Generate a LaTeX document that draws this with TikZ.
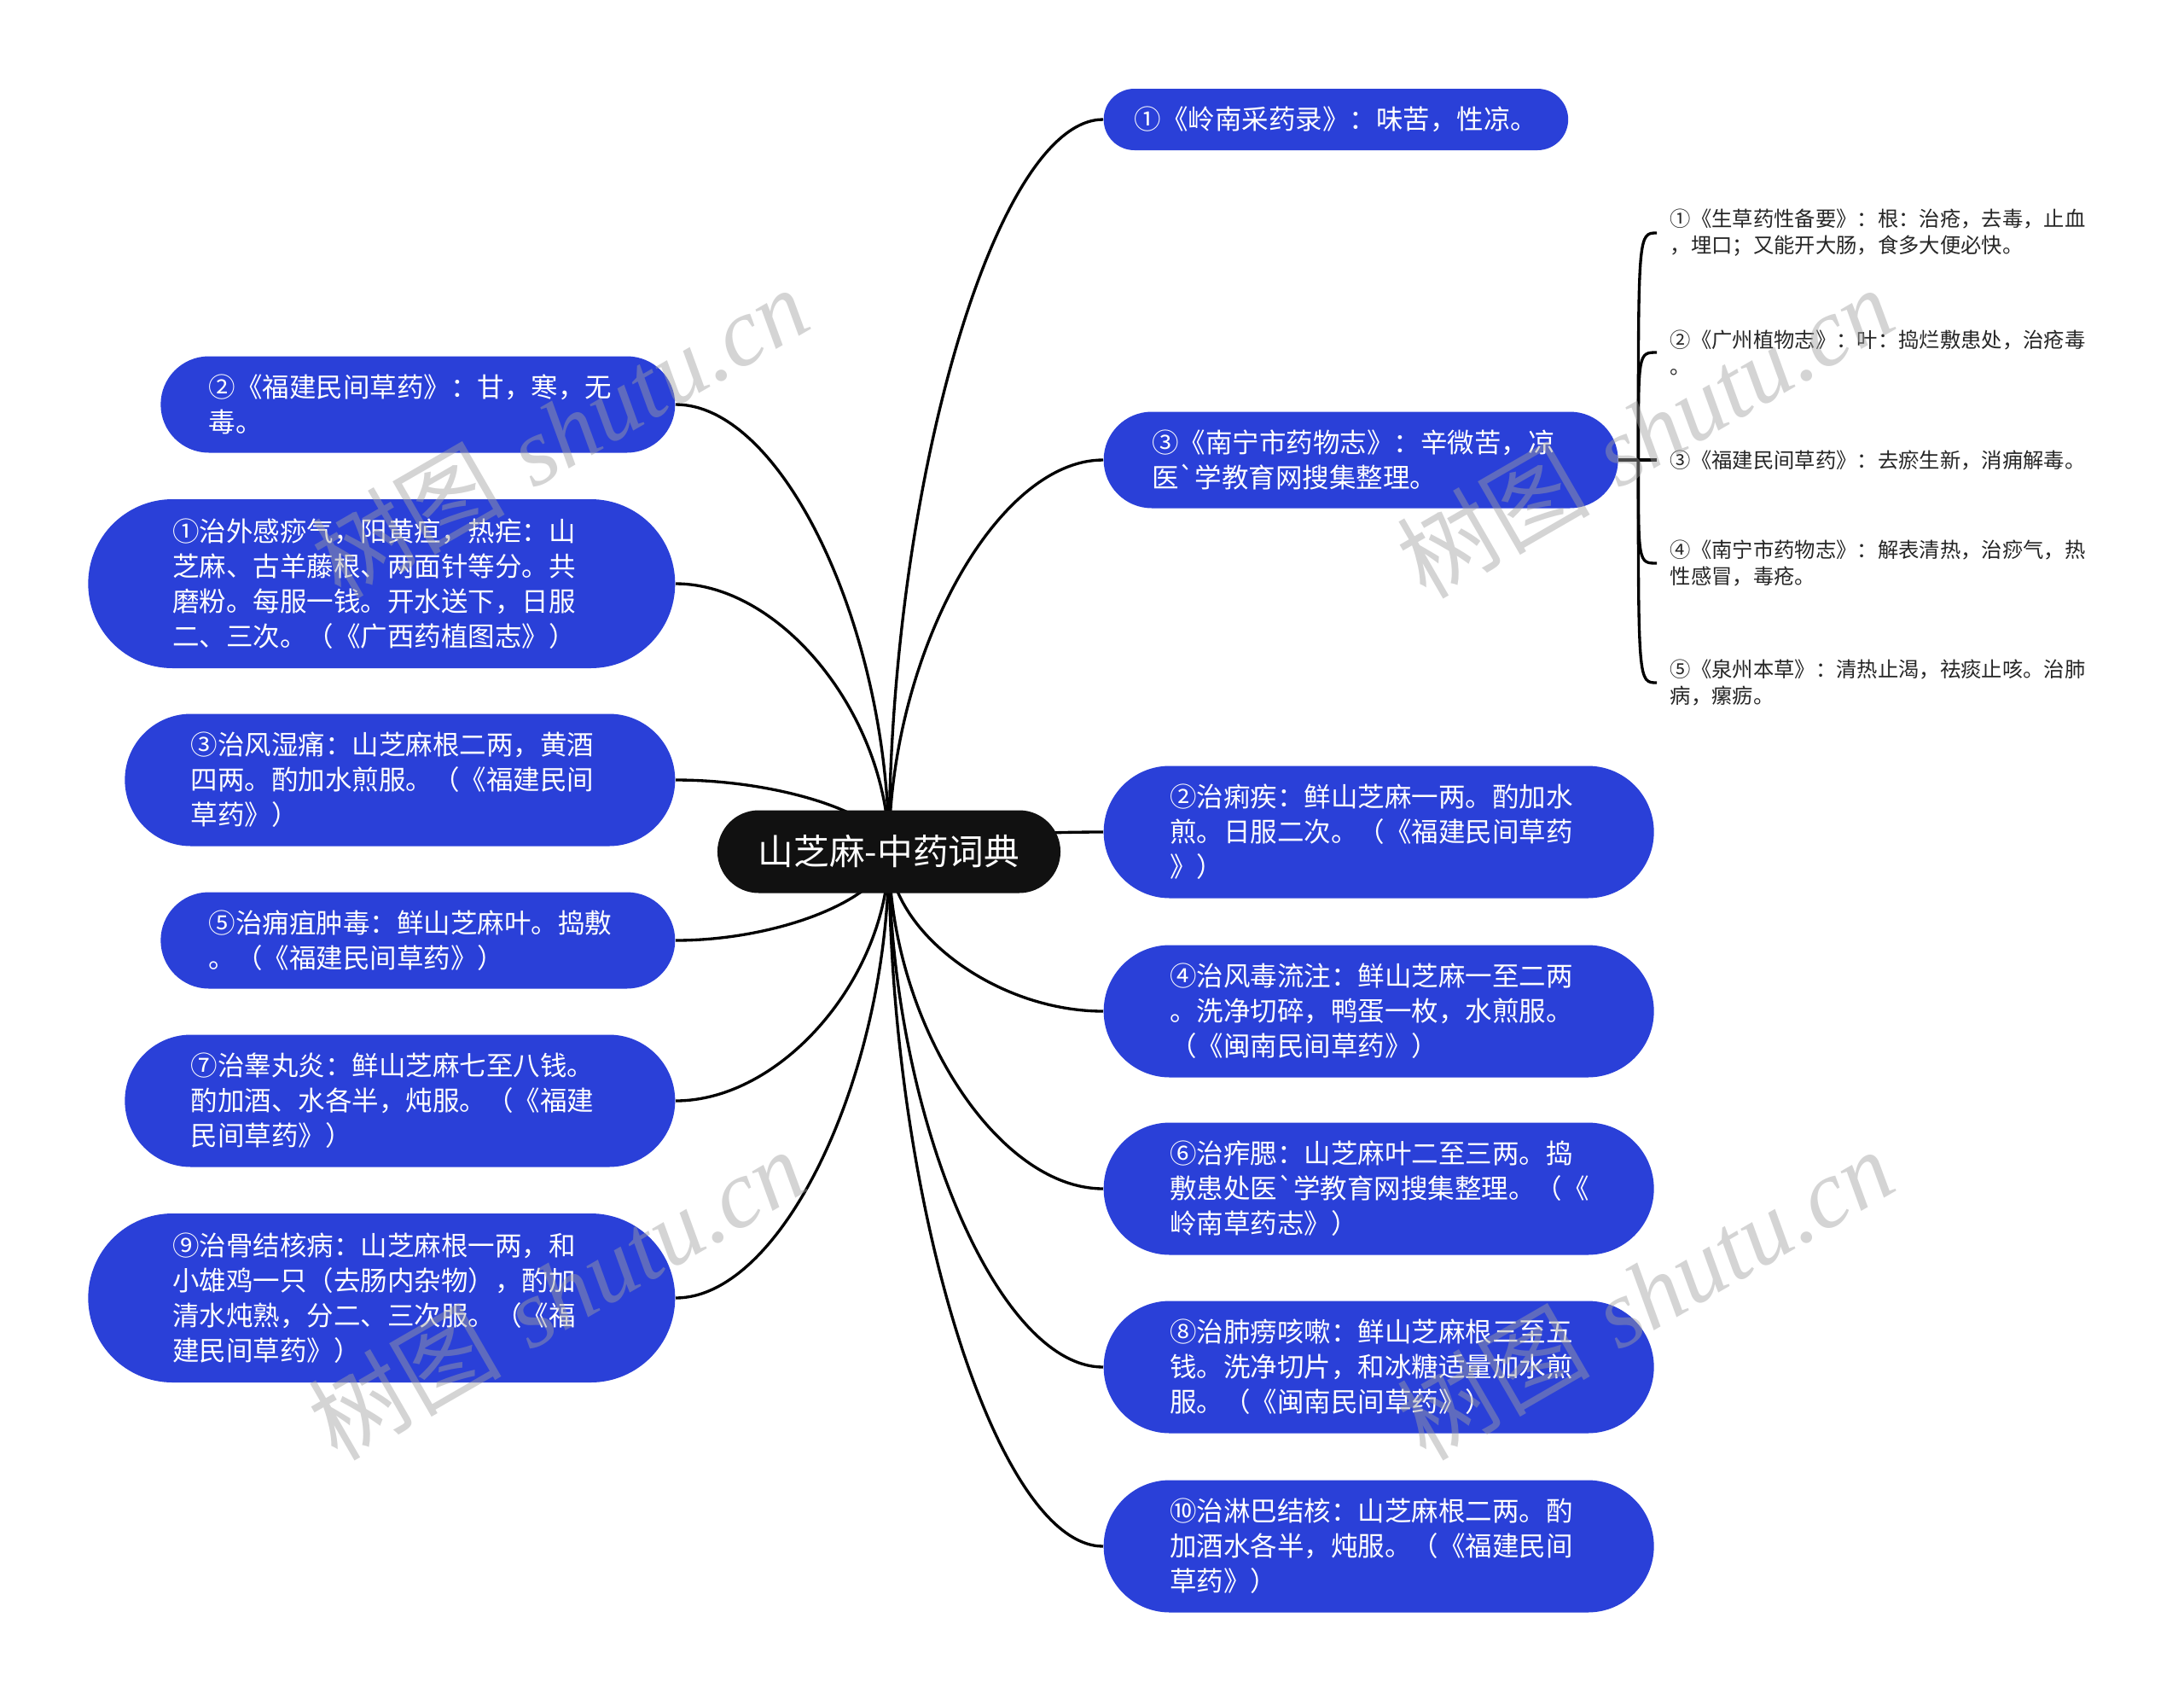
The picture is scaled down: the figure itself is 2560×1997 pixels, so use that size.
\documentclass[tikz,border=0pt]{standalone}
\usepackage{fontspec}
\newfontfamily\cjk{Noto Sans CJK SC}[Ligatures=TeXOff]
\newfontfamily\wmserif{Liberation Serif}
\usetikzlibrary{calc}
\definecolor{nodeblue}{RGB}{42,64,216}
\definecolor{rootblack}{RGB}{17,17,17}
\definecolor{wmgray}{RGB}{160,160,160}
\pgfdeclarelayer{bg}
\pgfdeclarelayer{lines}
\pgfdeclarelayer{front}
\pgfsetlayers{bg,lines,main,front}
\tikzset{
  bn/.style={fill=nodeblue, text=white, font=\cjk\fontsize{9.45}{12.3}\selectfont,
             align=left, inner ysep=0pt, rectangle},
  tw/.style={text width=147pt},
  h1/.style={minimum height=21.6pt, rounded corners=10.8pt, inner xsep=10.8pt},
  h2/.style={minimum height=33.9pt, rounded corners=16.95pt, inner xsep=16.95pt},
  h3/.style={minimum height=46.5pt, rounded corners=23.25pt, inner xsep=23.25pt},
  h4/.style={minimum height=59.4pt, rounded corners=29.7pt, inner xsep=29.7pt},
  rootnode/.style={fill=rootblack, text=white, font=\cjk\fontsize{12.5}{15}\selectfont,
             minimum height=29.1pt, rounded corners=14.55pt, inner xsep=14.4pt, inner ysep=0pt},
  subtext/.style={font=\cjk\fontsize{7.3}{9.3}\selectfont, text=black!85, align=left,
             inner xsep=4.5pt, inner ysep=0pt},
  conn/.style={draw=black, line width=1pt,
    to path={.. controls ($(\tikztostart)!0.5!(\tikztotarget |- \tikztostart)$)
                and ($(\tikztotarget)!0.5!(\tikztotarget |- \tikztostart)$) .. (\tikztotarget)}},
  bracecurve/.style={draw=black, line width=1pt,
    to path={.. controls (\tikztostart |- \tikztotarget) and (\tikztostart |- \tikztotarget) .. (\tikztotarget)}},
  wm/.style={text=wmgray, opacity=0.45, font=\fontsize{34}{40}\selectfont, inner sep=0pt}
}
\begin{document}
\begin{tikzpicture}[x=0.3pt,y=-0.3pt]
\begin{pgfonlayer}{bg}
\fill[white] (0,0) rectangle (2560,1997);
\end{pgfonlayer}
\useasboundingbox (0,0) rectangle (2560,1997);

% root
\node[rootnode] (root) at (1042,998) {山芝麻-中药词典};

% right branches
\node[bn,h1,anchor=west] (r1) at (1293,140) {①《岭南采药录》：味苦，性凉。};
\node[bn,h2,tw,anchor=west] (r3) at (1293,539) {③《南宁市药物志》：辛微苦，凉\\医`学教育网搜集整理。};
\node[bn,h3,tw,anchor=west] (r2) at (1293,975) {②治痢疾：鲜山芝麻一两。酌加水\\煎。日服二次。（《福建民间草药\\》）};
\node[bn,h3,tw,anchor=west] (r4) at (1293,1185) {④治风毒流注：鲜山芝麻一至二两\\。洗净切碎，鸭蛋一枚，水煎服。\\（《闽南民间草药》）};
\node[bn,h3,tw,anchor=west] (r6) at (1293,1393) {⑥治痄腮：山芝麻叶二至三两。捣\\敷患处医`学教育网搜集整理。（《\\岭南草药志》）};
\node[bn,h3,tw,anchor=west] (r8) at (1293,1602) {⑧治肺痨咳嗽：鲜山芝麻根三至五\\钱。洗净切片，和冰糖适量加水煎\\服。（《闽南民间草药》）};
\node[bn,h3,tw,anchor=west] (r10) at (1293,1812) {⑩治淋巴结核：山芝麻根二两。酌\\加酒水各半，炖服。（《福建民间\\草药》）};

% left branches
\node[bn,h2,tw,anchor=east] (l2) at (792,474) {②《福建民间草药》：甘，寒，无\\毒。};
\node[bn,h4,tw,anchor=east] (l1) at (792,684) {①治外感痧气，阳黄疸，热疟：山\\芝麻、古羊藤根、两面针等分。共\\磨粉。每服一钱。开水送下，日服\\二、三次。（《广西药植图志》）};
\node[bn,h3,tw,anchor=east] (l3) at (792,914) {③治风湿痛：山芝麻根二两，黄酒\\四两。酌加水煎服。（《福建民间\\草药》）};
\node[bn,h2,tw,anchor=east] (l5) at (792,1102) {⑤治痈疽肿毒：鲜山芝麻叶。捣敷\\。（《福建民间草药》）};
\node[bn,h3,tw,anchor=east] (l7) at (792,1290) {⑦治睾丸炎：鲜山芝麻七至八钱。\\酌加酒、水各半，炖服。（《福建\\民间草药》）};
\node[bn,h4,tw,anchor=east] (l9) at (792,1521) {⑨治骨结核病：山芝麻根一两，和\\小雄鸡一只（去肠内杂物），酌加\\清水炖熟，分二、三次服。（《福\\建民间草药》）};

% sub items of r3
\node[subtext,anchor=west] (s1) at (1942,273) {①《生草药性备要》：根：治疮，去毒，止血\\，埋口；又能开大肠，食多大便必快。};
\node[subtext,anchor=west] (s2) at (1942,413) {②《广州植物志》：叶：捣烂敷患处，治疮毒\\。};
\node[subtext,anchor=west] (s3) at (1942,539) {③《福建民间草药》：去瘀生新，消痈解毒。};
\node[subtext,anchor=west] (s4) at (1942,660) {④《南宁市药物志》：解表清热，治痧气，热\\性感冒，毒疮。};
\node[subtext,anchor=west] (s5) at (1942,800) {⑤《泉州本草》：清热止渴，祛痰止咳。治肺\\病，瘰疬。};

% connectors
\begin{pgfonlayer}{lines}
\foreach \n in {r1,r3,r2,r4,r6,r8,r10} \draw[conn] (\n.west) to (root.center);
\foreach \n in {l2,l1,l3,l5,l7,l9} \draw[conn] (\n.east) to (root.center);
\coordinate (j) at ($(r3.east)+(23,0)$);
\draw[line width=1pt] (r3.east) -- (s3.west);
\foreach \n in {s1,s2,s4,s5} \draw[bracecurve] (j) to (\n.west);
\end{pgfonlayer}

% watermarks
\begin{pgfonlayer}{front}
\foreach \p/\nm in {{(656,506)}/w1,{(1928,506)}/w2,{(652,1516)}/w3,{(1928,1516)}/w4}
  \node[wm,rotate=30] (\nm) at \p {{\cjk 树图} {\wmserif\itshape shutu.cn}};
\end{pgfonlayer}
\end{tikzpicture}
\end{document}
